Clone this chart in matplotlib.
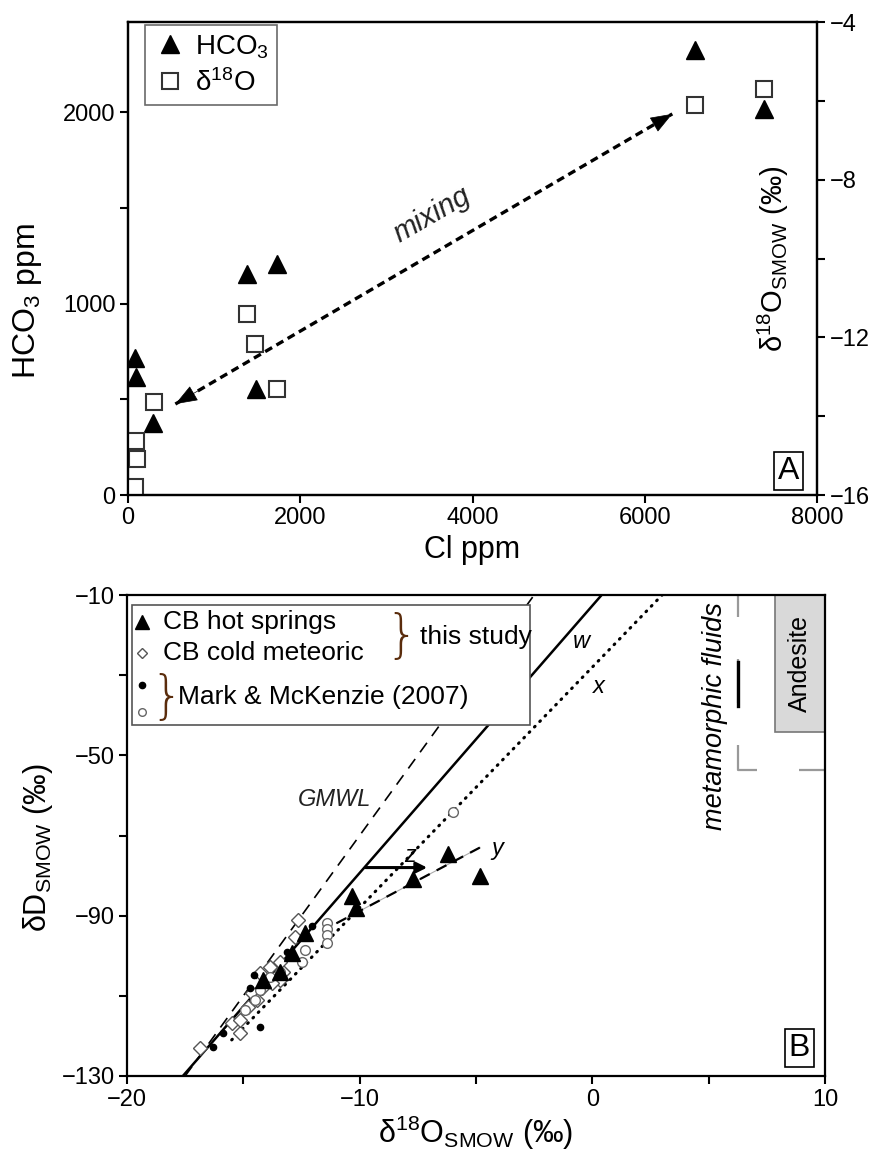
import numpy as np
import matplotlib
matplotlib.use("Agg")
import matplotlib.pyplot as plt
from matplotlib.patches import Rectangle

plt.rcParams['font.family'] = ['Liberation Sans', 'DejaVu Sans']
plt.rcParams['mathtext.fontset'] = 'custom'
plt.rcParams['mathtext.rm'] = 'Liberation Sans'
plt.rcParams['mathtext.it'] = 'Liberation Sans:italic'

# ── Panel A data ─────────────────────────────────────────────────────────────
CL_HCO3 = [6580, 7380, 1380, 1730, 1490, 86, 97, 292, 47]
HCO3 = [2325, 2015, 1155, 1205, 555, 718, 618, 378, 273]
CL_D18O = [6580, 7380, 1380, 1475, 1730, 307, 97, 105, 86]
D18O_A = [-6.11, -5.70, -11.4, -12.18, -13.3, -13.63, -14.64, -15.08, -15.8]
MIX_START = (550, 475)
MIX_END = (6320, 1990)

# ── Panel B data ─────────────────────────────────────────────────────────────
HOT_D18O = [-6.19, -7.70, -4.83, -10.34, -10.16, -12.35, -12.92, -13.43, -14.14]
HOT_DD = [-74.6, -80.8, -80.0, -85.1, -88.2, -94.2, -99.4, -104.0, -106.0]
COLD_D18O = [-16.86, -15.50, -15.14, -15.14, -14.79, -14.64, -14.28, -13.85,
             -14.21, -13.43, -13.78, -13.28, -12.78, -13.43, -12.64, -14.42]
COLD_DD = [-123.1, -116.8, -119.3, -116.0, -112.7, -109.4, -104.4, -102.7,
           -108.1, -106.0, -106.9, -104.0, -95.2, -101.5, -91.1, -111.0]
MM_OPEN_D18O = [-5.98, -11.42, -11.42, -11.42, -11.42, -12.35, -12.49, -13.43,
                -13.85, -14.28, -14.50, -14.93]
MM_OPEN_DD = [-64.1, -91.9, -93.4, -94.8, -96.9, -98.6, -101.5, -104.0,
              -105.3, -108.5, -111.0, -113.5]
MM_FILL_D18O = [-14.30, -14.70, -14.56, -16.31, -15.88, -13.14, -12.06]
MM_FILL_DD = [-117.7, -108.1, -104.8, -122.7, -119.3, -99.0, -92.7]

GMWL_D18O = np.array([-17.5, -2.5])
GMWL_DD = 8 * GMWL_D18O + 10
W_D18O = [-17.6, 0.4]
W_DD = [-130, -10]
X_D18O = [-15.5, 3.0]
X_DD = [-121, -10]
Y_D18O = [-11.0, -4.83]
Y_DD = [-91.9, -73.0]
Z_D18O = [-9.75, -7.1]
Z_DD = -78.0

ANDESITE = (7.85, -44.1)     # lower-left corner, box runs to axes top/right
META = (6.27, -53.7)         # corner of metamorphic fluids field
META_BLACK = (-26.7, -37.7)  # dark dash on the field's left edge

fig = plt.figure(figsize=(8.76, 11.52), dpi=100)

# ── Panel A ──────────────────────────────────────────────────────────────────
ax = fig.add_axes([128 / 876, 1 - 495 / 1152, 689 / 876, 473 / 1152])
ax2 = ax.twinx()
h1, = ax.plot(CL_HCO3, HCO3, ls='none', marker='^', ms=13, color='k',
              label='HCO$_3$')
h2, = ax2.plot(CL_D18O, D18O_A, ls='none', marker='s', ms=12, mfc='white',
               mec='#333333', mew=1.5, label='δ$^{18}$O')
ax.set_xlim(0, 8000)
ax.set_ylim(0, 2470)
ax2.set_ylim(-16, -4)
ax.set_xticks([0, 2000, 4000, 6000, 8000])
ax.set_yticks([0, 1000, 2000])
ax.set_yticks([500, 1500], minor=True)
ax2.set_yticks([-16, -12, -8, -4])
ax2.set_yticks([-14, -10, -6], minor=True)
for a in (ax, ax2):
    a.tick_params(which='both', direction='out', length=6, width=1.5,
                  labelsize=17, pad=3)
    for s in a.spines.values():
        s.set_linewidth(1.6)
ax.set_xlabel('Cl ppm', fontsize=22, labelpad=4)
ax.set_ylabel('HCO$_3$ ppm', fontsize=23)
ax.yaxis.set_label_coords(-0.122, 0.41)
ax2.text(0.936, 0.5, 'δ$^{18}$O$_{\\mathrm{SMOW}}$ (‰)', transform=ax2.transAxes,
         rotation=90, ha='center', va='center', fontsize=21)

# mixing arrow: dashed shaft + two solid heads
mix = np.array([MIX_START, MIX_END], dtype=float)
ax.plot(mix[:, 0], mix[:, 1], color='k', lw=2.4, ls=(0, (2.4, 1.5)))
head = dict(arrowstyle='-|>,head_length=0.8,head_width=0.3', color='k',
            lw=0.5, mutation_scale=18, shrinkA=0, shrinkB=0)
for tip, tail in ((mix[1], mix[0]), (mix[0], mix[1])):
    ax.annotate('', xy=tuple(tip), xytext=tuple(tip + 0.05 * (tail - tip)),
                arrowprops=head)
ax.text(3535, 1465, 'mixing', rotation=30, style='italic', fontsize=21,
        ha='center', va='center', color='#222222')
leg = ax2.legend(handles=[h1, h2], loc='upper left',
                 bbox_to_anchor=(0.02, 1.0), fontsize=20, frameon=True,
                 fancybox=False, edgecolor='#444444', handletextpad=0.3,
                 borderpad=0.3, labelspacing=0.3, handlelength=1.2,
                 borderaxespad=0.1)
leg.get_frame().set_linewidth(1.2)
ax.text(0.959, 0.051, 'A', transform=ax.transAxes, fontsize=23,
        ha='center', va='center',
        bbox=dict(boxstyle='square,pad=0.12', fc='white', ec='k', lw=1.2))

# ── Panel B ──────────────────────────────────────────────────────────────────
bx = fig.add_axes([127 / 876, 1 - 1076 / 1152, 698 / 876, 481 / 1152])
bx.set_xlim(-20, 10)
bx.set_ylim(-130, -10)

bx.plot(GMWL_D18O, GMWL_DD, color='k', lw=1.2, ls=(0, (7, 5)))
bx.plot(W_D18O, W_DD, color='k', lw=1.8)
bx.plot(X_D18O, X_DD, color='k', lw=2.2, ls=(0, (0.3, 2.2)),
        dash_capstyle='round')
bx.plot(Y_D18O, Y_DD, color='#aaaaaa', lw=0.8)
bx.plot(Y_D18O, Y_DD, color='k', lw=1.6, ls=(0, (5, 3.5)))
bx.annotate('', xy=(Z_D18O[1], Z_DD), xytext=(Z_D18O[0], Z_DD),
            arrowprops=dict(arrowstyle='-|>', color='k', lw=2.2,
                            mutation_scale=16, shrinkA=0, shrinkB=0))

bx.plot(COLD_D18O, COLD_DD, ls='none', marker='D', ms=7.5, mfc='white',
        mec='#555555', mew=1.0)
bx.plot(MM_OPEN_D18O, MM_OPEN_DD, ls='none', marker='o', ms=7, mfc='white',
        mec='#666666', mew=1.0)
bx.plot(MM_FILL_D18O, MM_FILL_DD, ls='none', marker='o', ms=4.5, color='k')
bx.plot(HOT_D18O, HOT_DD, ls='none', marker='^', ms=11.5, color='k')

# andesite and metamorphic fields
bx.add_patch(Rectangle(ANDESITE, 10 - ANDESITE[0], -10 - ANDESITE[1],
                       fc='#d9d9d9', ec='#777777', lw=1.2, zorder=1))
bx.text((ANDESITE[0] + 10) / 2, (ANDESITE[1] - 10) / 2, 'Andesite',
        rotation=90, ha='center', va='center', fontsize=18)
bx.plot([META[0], META[0], 10], [-10, META[1], META[1]], color='#999999',
        lw=1.6, ls=(9.9, (19.8, 18.9)), dash_capstyle='butt', zorder=1)
bx.plot([META[0], META[0]], META_BLACK, color='k', lw=2.4)
bx.text(5.27, -11.8, 'metamorphic fluids', rotation=90, ha='center',
        va='top', style='italic', fontsize=19.5)

bx.text(-11.1, -61.0, 'GMWL', style='italic', fontsize=17, ha='center',
        va='center', color='#222222')
bx.text(-0.46, -21.6, 'w', style='italic', fontsize=17, ha='center',
        va='center')
bx.text(0.30, -32.9, 'x', style='italic', fontsize=17, ha='center',
        va='center')
bx.text(-7.84, -74.9, 'z', style='italic', fontsize=17, ha='center',
        va='center')
bx.text(-4.1, -73.2, 'y', style='italic', fontsize=17, ha='center',
        va='center')

# legend drawn by hand (braces)
bx.add_patch(Rectangle((0.007, 0.73), 0.57, 0.249, transform=bx.transAxes,
                       fc='white', ec='#555555', lw=1.2, zorder=5))
kw = dict(transform=bx.transAxes, zorder=6, clip_on=False)
bx.plot(0.021, 0.944, marker='^', ms=10, color='k', **kw)
bx.plot(0.021, 0.879, marker='D', ms=5.5, mfc='white', mec='#555555', **kw)
bx.plot(0.021, 0.813, marker='o', ms=4.5, color='k', **kw)
bx.plot(0.021, 0.757, marker='o', ms=5.5, mfc='white', mec='#666666', **kw)
tkw = dict(transform=bx.transAxes, zorder=6, fontsize=19, va='center')
bx.text(0.052, 0.944, 'CB hot springs', **tkw)
bx.text(0.052, 0.879, 'CB cold meteoric', **tkw)
bx.text(0.073, 0.787, 'Mark & McKenzie (2007)', **tkw)
bx.text(0.42, 0.913, 'this study', **tkw)
bkw = dict(transform=bx.transAxes, zorder=6, fontsize=37, va='center',
           ha='center', color='#5a2c0c', family=['DejaVu Sans'],
           fontweight='light')
bx.text(0.394, 0.913, '}', **bkw)
bx.text(0.057, 0.787, '}', **bkw)

bx.text(0.963, 0.058, 'B', transform=bx.transAxes, fontsize=23,
        ha='center', va='center',
        bbox=dict(boxstyle='square,pad=0.12', fc='white', ec='k', lw=1.2))

bx.set_xticks([-20, -10, 0, 10])
bx.set_xticks([-15, -5, 5], minor=True)
bx.set_yticks([-130, -90, -50, -10])
bx.set_yticks([-110, -70, -30], minor=True)
bx.tick_params(which='both', direction='out', length=6, width=1.5,
               labelsize=17, pad=3)
for s in bx.spines.values():
    s.set_linewidth(1.6)
bx.set_xlabel('δ$^{18}$O$_{\\mathrm{SMOW}}$ (‰)', fontsize=22, labelpad=2)
bx.set_ylabel('δD$_{\\mathrm{SMOW}}$ (‰)', fontsize=22)
bx.yaxis.set_label_coords(-0.103, 0.474)

fig.savefig('out.png', dpi=100)
